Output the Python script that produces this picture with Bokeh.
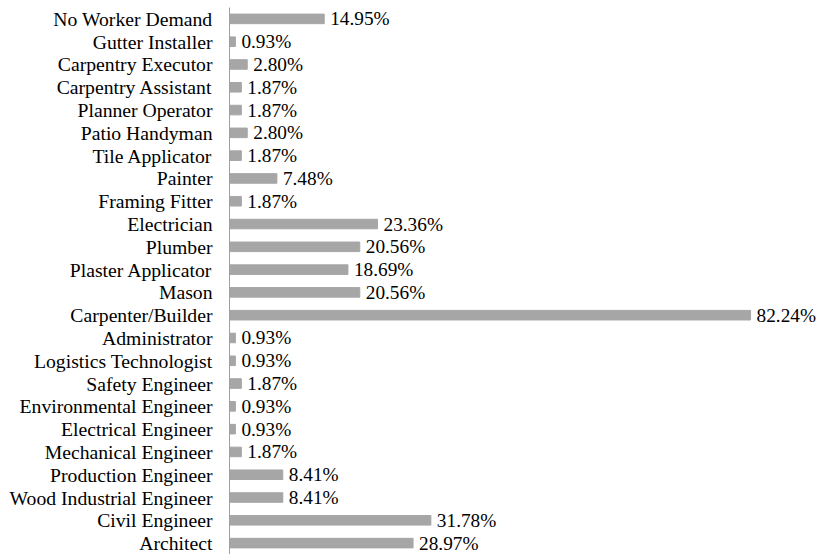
from bokeh.plotting import figure
from bokeh.models import ColumnDataSource, Range1d, FactorRange, LabelSet
from bokeh.embed import file_html
from bokeh.resources import INLINE
from bokeh.core.properties import value

categories = [
    "No Worker Demand", "Gutter Installer", "Carpentry Executor", "Carpentry Assistant",
    "Planner Operator", "Patio Handyman", "Tile Applicator", "Painter", "Framing Fitter",
    "Electrician", "Plumber", "Plaster Applicator", "Mason", "Carpenter/Builder",
    "Administrator", "Logistics Technologist", "Safety Engineer", "Environmental Engineer",
    "Electrical Engineer", "Mechanical Engineer", "Production Engineer",
    "Wood Industrial Engineer", "Civil Engineer", "Architect",
]
percent = [
    14.95, 0.93, 2.80, 1.87, 1.87, 2.80, 1.87, 7.48, 1.87, 23.36, 20.56, 18.69, 20.56,
    82.24, 0.93, 0.93, 1.87, 0.93, 0.93, 1.87, 8.41, 8.41, 31.78, 28.97,
]
labels = ["%.2f%%" % v for v in percent]

src = ColumnDataSource(dict(cat=categories, val=percent, lab=labels))

p = figure(
    width=817, height=554,
    y_range=FactorRange(factors=list(reversed(categories)), range_padding=0),
    x_range=Range1d(0, 92.8),
    output_backend="svg", toolbar_location=None,
    min_border_left=229, min_border_right=0, min_border_top=7, min_border_bottom=0,
)
p.outline_line_color = None
p.grid.visible = False
p.xaxis.visible = False

p.hbar(y="cat", right="val", left=0, height=0.42, color="#a6a6a6", source=src)
p.add_layout(LabelSet(x="val", y="cat", text="lab", source=src, x_offset=6,
                      text_baseline="middle", text_align="left",
                      text_font=value("Liberation Serif"), text_font_size=value("19.3px"),
                      text_color=value("#000000")))

ax = p.yaxis[0]
ax.axis_line_color = "#a0a0a0"
ax.axis_line_width = 1
ax.major_tick_line_color = None
ax.minor_tick_line_color = None
ax.major_tick_out = 0
ax.major_tick_in = 0
ax.major_label_standoff = 17
ax.major_label_text_font = "Liberation Serif"
ax.major_label_text_font_size = "19.7px"
ax.major_label_text_color = "#000000"

open("out.html", "w").write(file_html(p, INLINE))
